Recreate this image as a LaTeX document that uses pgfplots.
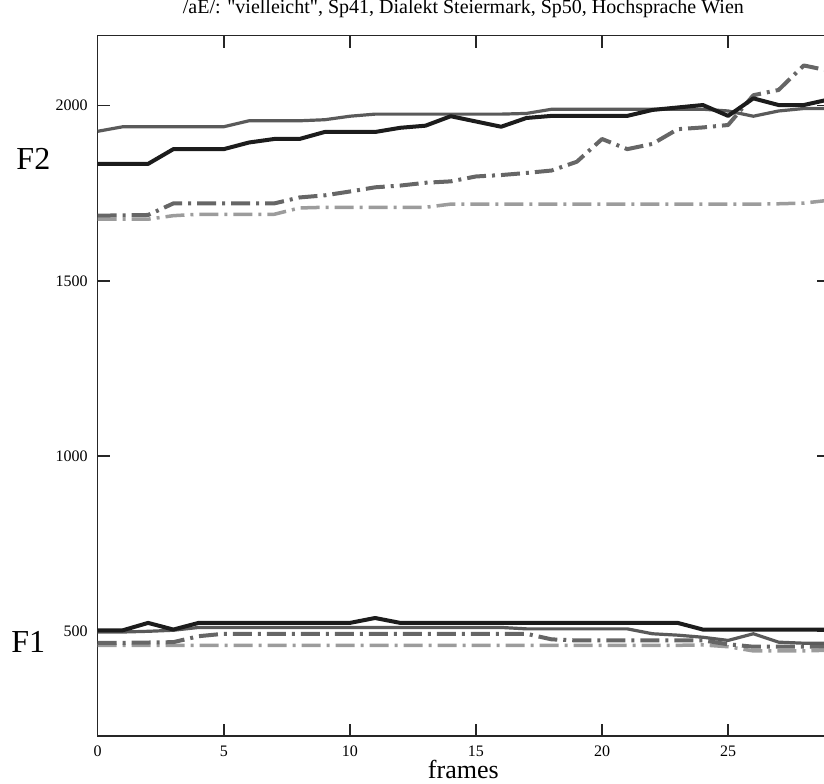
\documentclass[border=0pt]{standalone}
\usepackage{pgfplots}
\pgfplotsset{compat=1.18}
\usepackage{pgfplotstable}
\usepackage{graphicx}
\usepackage{fontspec}
\setmainfont{Liberation Serif}

\definecolor{cA}{HTML}{1C1C1C}
\definecolor{cB}{HTML}{5A5A5A}
\definecolor{cC}{HTML}{666666}
\definecolor{cD}{HTML}{9C9C9C}

% formant tracks per frame: F2 and F1 for the four realisations
\pgfplotstableread{
frame F2a  F2b  F2c  F2d  F1a F1b F1c F1d
0     1834 1927 1686 1676 502 497 466 459
1     1834 1940 1687 1676 502 497 466 459
2     1834 1940 1688 1676 523 499 467 459
3     1876 1940 1721 1686 504 502 468 459
4     1876 1940 1721 1690 523 510 485 459
5     1876 1940 1721 1690 523 510 492 459
6     1895 1957 1721 1690 523 510 492 459
7     1905 1957 1721 1690 523 510 492 459
8     1905 1957 1738 1708 523 510 492 459
9     1925 1960 1744 1710 523 510 492 459
10    1925 1970 1755 1710 523 510 492 459
11    1925 1976 1767 1710 537 510 492 459
12    1937 1976 1772 1710 523 510 492 459
13    1943 1976 1780 1710 523 510 492 459
14    1970 1976 1784 1719 523 510 492 459
15    1955 1976 1798 1719 523 510 492 459
16    1940 1976 1802 1719 523 510 492 459
17    1965 1978 1808 1719 523 506 492 459
18    1971 1990 1815 1719 523 506 476 459
19    1971 1990 1840 1719 523 506 473 459
20    1971 1990 1905 1719 523 506 473 459
21    1971 1990 1876 1719 523 506 473 459
22    1988 1990 1891 1719 523 492 473 459
23    1995 1990 1933 1719 523 488 473 459
24    2002 1990 1938 1719 504 482 473 460
25    1971 1985 1945 1719 504 473 462 455
26    2021 1970 2030 1719 504 492 455 443
27    2002 1985 2045 1720 504 468 455 443
28    2002 1992 2115 1722 504 465 455 443
29    2018 1992 2100 1730 504 465 455 445
}\formants

\begin{document}
\begin{tikzpicture}
\begin{axis}[
  scale only axis,
  width=365.65pt, height=350.15pt,
  xmin=0, xmax=29, ymin=200, ymax=2200,
  clip=false,
  axis line style={black!85, line width=0.75pt},
  xtick={0,5,...,25},
  ytick={500,1000,1500,2000},
  tick align=inside, tick pos=both,
  major tick length=6pt,
  tick style={black!85, line width=0.75pt},
  /pgf/number format/assume math mode=true,
  /pgf/number format/1000 sep={},
  ticklabel style={font=\fontsize{8}{9}\selectfont},
  xticklabel style={inner sep=0.5pt, yshift=-4.2pt},
  yticklabel style={xshift=-1.5pt},
  title={/aE/: \textquotedbl vielleicht\textquotedbl, Sp41, Dialekt Steiermark, Sp50, Hochsprache Wien},
  title style={font=\fontsize{10}{12}\selectfont, at={(axis description cs:0.5,1)}, anchor=base, yshift=5.3pt, inner sep=0pt},
  xlabel={frames},
  xlabel style={font=\fontsize{13}{14}\selectfont, at={(axis description cs:0.5,0)}, anchor=base, yshift=-21pt, inner sep=0pt},
  every axis plot/.append style={no markers, line join=round},
]
% F2 tracks
\addplot[cD, line width=1.75pt, dash pattern=on 9.5pt off 3pt on 1.5pt off 3pt] table[x=frame, y=F2d] {\formants};
\addplot[cC, line width=2pt, dash pattern=on 9.5pt off 3pt on 1.5pt off 3pt] table[x=frame, y=F2c] {\formants};
\addplot[cB, line width=1.6pt] table[x=frame, y=F2b] {\formants};
\addplot[cA, line width=2pt] table[x=frame, y=F2a] {\formants};
% F1 tracks
\addplot[cD, line width=1.75pt, dash pattern=on 9.5pt off 3pt on 1.5pt off 3pt] table[x=frame, y=F1d] {\formants};
\addplot[cC, line width=2pt, dash pattern=on 9.5pt off 3pt on 1.5pt off 3pt] table[x=frame, y=F1c] {\formants};
\addplot[cB, line width=1.6pt] table[x=frame, y=F1b] {\formants};
\addplot[cA, line width=2pt] table[x=frame, y=F1a] {\formants};

\node[font=\fontsize{16}{18}\selectfont] at (axis cs:-2.55,1848) {F2};
\node[font=\fontsize{16}{18}\selectfont] at (axis cs:-2.75,470) {F1};
\end{axis}
\pgfresetboundingbox
\useasboundingbox (-48.85pt,-23.5pt) rectangle (363.15pt,368pt);
\end{tikzpicture}
\end{document}
